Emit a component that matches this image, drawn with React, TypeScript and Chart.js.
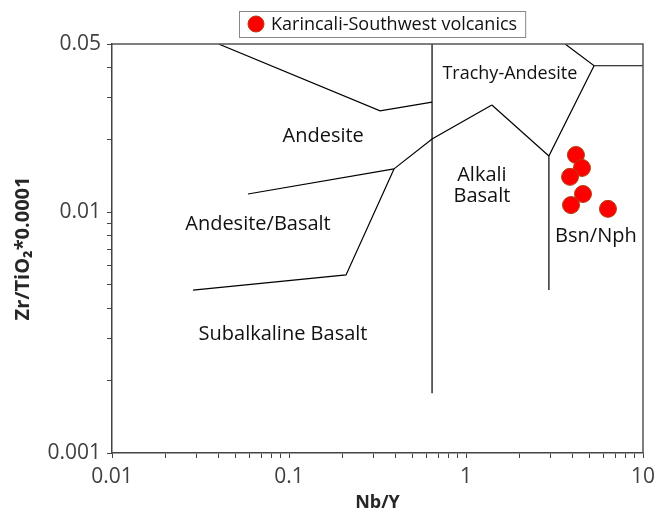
import React, { useEffect, useRef } from 'react';
import { Chart, registerables } from 'chart.js';

Chart.register(...registerables);

// ---- data ----
const seriesName = 'Karincali-Southwest volcanics';
const nbY = [4.18, 4.52, 3.87, 4.58, 3.92, 6.34];
const zrTiO2 = [0.0173, 0.01528, 0.01403, 0.01191, 0.01071, 0.01033];

// field boundary polylines (Nb/Y, Zr/TiO2*0.0001)
const lineA_x = [0.04, 0.327, 0.643];
const lineA_y = [0.05, 0.0264, 0.0287];
const lineV_x = [0.643, 0.643];
const lineV_y = [0.05, 0.00177];
const lineB_x = [3.63, 5.29, 10];
const lineB_y = [0.05, 0.0406, 0.0406];
const lineC_x = [5.29, 2.94, 2.94];
const lineC_y = [0.0406, 0.01714, 0.00475];
const lineD_x = [1.4, 2.94];
const lineD_y = [0.0279, 0.01714];
const lineE_x = [0.392, 0.643, 1.4];
const lineE_y = [0.01514, 0.02016, 0.0279];
const lineF_x = [0.0586, 0.392];
const lineF_y = [0.01191, 0.01514];
const lineG_x = [0.392, 0.21, 0.0287];
const lineG_y = [0.01514, 0.00549, 0.00475];

// field names and their anchor positions
const fieldNames = ['Trachy-Andesite', 'Andesite', 'Alkali', 'Basalt', 'Andesite/Basalt', 'Bsn/Nph', 'Subalkaline Basalt'];
const fieldX = [1.77, 0.156, 1.23, 1.23, 0.0668, 5.42, 0.0925];
const fieldY = [0.0376, 0.0206, 0.0143, 0.0117, 0.00893, 0.00797, 0.00312];

// tick labels
const xTickLabels = [0.01, 0.1, 1, 10];
const yTickLabels = [0.001, 0.01, 0.05];

// label styling (kept apart from the data)
const fieldFontSizes = [18, 20, 20, 20, 20, 20, 20];

const boundaries = [
  [lineA_x, lineA_y],
  [lineV_x, lineV_y],
  [lineB_x, lineB_y],
  [lineC_x, lineC_y],
  [lineD_x, lineD_y],
  [lineE_x, lineE_y],
  [lineF_x, lineF_y],
  [lineG_x, lineG_y],
];

const FONT = "'Open Sans', 'Noto Sans', sans-serif";

const near = (a: number, b: number) => Math.abs(Math.log10(a) - Math.log10(b)) < 1e-6;

const dropHalfTicks = (scale: any) => {
  scale.ticks = scale.ticks.filter((t: any) => {
    const e = Math.floor(Math.log10(t.value) + 1e-9);
    const m = t.value / Math.pow(10, e);
    return Math.abs(m - 1.5) > 1e-6;
  });
};

const decorPlugin = {
  id: 'decor',
  beforeDatasetsDraw(chart: any) {
    const { ctx, scales } = chart;
    ctx.save();
    ctx.fillStyle = '#111';
    ctx.textAlign = 'center';
    ctx.textBaseline = 'middle';
    fieldNames.forEach((n, i) => {
      ctx.font = `${fieldFontSizes[i]}px ${FONT}`;
      ctx.fillText(n, scales.x.getPixelForValue(fieldX[i]), scales.y.getPixelForValue(fieldY[i]));
    });
    ctx.restore();
  },
  afterDatasetsDraw(chart: any) {
    const { ctx, chartArea } = chart;
    ctx.save();
    ctx.strokeStyle = '#555';
    ctx.lineWidth = 1.5;
    ctx.beginPath();
    ctx.moveTo(chartArea.left, chartArea.top);
    ctx.lineTo(chartArea.right, chartArea.top);
    ctx.lineTo(chartArea.right, chartArea.bottom);
    ctx.stroke();
    ctx.restore();
  },
  afterDraw(chart: any) {
    const { ctx } = chart;
    ctx.save();
    ctx.font = `18px ${FONT}`;
    const tw = ctx.measureText(seriesName).width;
    const bx = 239, by = 11, bh = 26;
    const bw = 32 + tw + 8;
    ctx.fillStyle = '#fff';
    ctx.fillRect(bx, by, bw, bh);
    ctx.strokeStyle = '#888';
    ctx.lineWidth = 1;
    ctx.strokeRect(bx + 0.5, by + 0.5, bw, bh);
    ctx.beginPath();
    ctx.arc(bx + 17, by + bh / 2, 8, 0, Math.PI * 2);
    ctx.fillStyle = '#FF0000';
    ctx.fill();
    ctx.strokeStyle = '#B04010';
    ctx.stroke();
    ctx.fillStyle = '#111';
    ctx.textAlign = 'left';
    ctx.textBaseline = 'middle';
    ctx.fillText(seriesName, bx + 32, by + bh / 2 + 1);
    ctx.restore();
  },
};

export default function App() {
  const ref = useRef<HTMLCanvasElement>(null);
  useEffect(() => {
    const canvas = ref.current;
    if (!canvas) return;
    const lineSets = boundaries.map(([xs, ys]) => ({
      type: 'scatter' as const,
      label: '',
      data: xs.map((x, i) => ({ x, y: ys[i] })),
      showLine: true,
      borderColor: '#000',
      borderWidth: 1.2,
      pointRadius: 0,
      pointHoverRadius: 0,
      fill: false,
      order: 2,
    }));
    const chart = new Chart(canvas, {
      type: 'scatter',
      data: {
        datasets: [
          {
            label: seriesName,
            data: nbY.map((x, i) => ({ x, y: zrTiO2[i] })),
            backgroundColor: '#FF0000',
            borderColor: '#B04010',
            borderWidth: 1,
            pointRadius: 8.5,
            order: 0,
          },
          ...lineSets,
        ] as any,
      },
      options: {
        animation: false,
        responsive: false,
        maintainAspectRatio: false,
        layout: { padding: { top: 44, right: 13, bottom: 0, left: 0 } },
        plugins: { legend: { display: false }, tooltip: { enabled: false } },
        scales: {
          x: {
            type: 'logarithmic',
            min: 0.01,
            max: 10,
            afterFit: (s: any) => { s.height = 59; s.paddingLeft = 0; s.paddingRight = 0; },
            afterBuildTicks: dropHalfTicks,
            border: { display: true, color: '#444', width: 1.5 },
            grid: { display: true, drawOnChartArea: false, drawTicks: true, tickLength: 5, color: '#444', lineWidth: 1 },
            ticks: {
              autoSkip: false,
              maxRotation: 0,
              padding: 6,
              color: '#404040',
              font: { family: FONT, size: 21 },
              callback: (v: any) => {
                const f = xTickLabels.find((t) => near(t, Number(v)));
                return f !== undefined ? String(f) : '';
              },
            },
            title: {
              display: true,
              text: 'Nb/Y',
              color: '#262626',
              font: { family: FONT, size: 18, weight: 'bold' },
              padding: { top: 0, bottom: -2 },
            },
          },
          y: {
            type: 'logarithmic',
            min: 0.001,
            max: 0.05,
            afterFit: (s: any) => { s.width = 112; s.paddingTop = 0; s.paddingBottom = 0; },
            afterBuildTicks: dropHalfTicks,
            border: { display: true, color: '#444', width: 1.5 },
            grid: { display: true, drawOnChartArea: false, drawTicks: true, tickLength: 5, color: '#444', lineWidth: 1 },
            ticks: {
              autoSkip: false,
              padding: 6,
              color: '#404040',
              font: { family: FONT, size: 21 },
              callback: (v: any) => {
                const f = yTickLabels.find((t) => near(t, Number(v)));
                return f !== undefined ? String(f) : '';
              },
            },
            title: {
              display: true,
              text: 'Zr/TiO\u2082*0.0001',
              color: '#262626',
              font: { family: FONT, size: 20, weight: 'bold' },
              padding: { top: 11, bottom: 0 },
            },
          },
        },
      } as any,
      plugins: [decorPlugin],
    });
    return () => chart.destroy();
  }, []);
  return (
    <div style={{ position: 'fixed', left: 0, top: 0, width: 656, height: 512, background: '#fff' }}>
      <canvas ref={ref} width={656} height={512} style={{ width: 656, height: 512, display: 'block' }} />
    </div>
  );
}
